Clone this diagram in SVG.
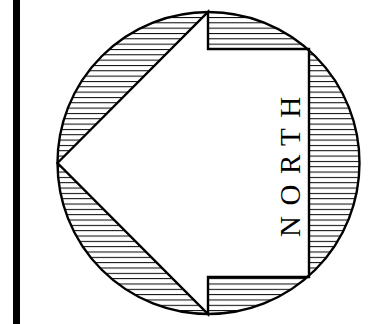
<svg xmlns="http://www.w3.org/2000/svg" width="381" height="324" viewBox="0 0 381 324">
<style>
.outline{fill:none;stroke:#000;stroke-width:2.4}
.arrow{fill:#fff;stroke:#000;stroke-width:2.4;stroke-linejoin:miter}
.label{font-family:"Liberation Serif","Times New Roman",serif;font-size:29px;letter-spacing:10.5px;fill:#000}
</style>
<defs>
<pattern id="hatch" patternUnits="userSpaceOnUse" x="0" y="1" width="20" height="5.33">
<rect x="0" y="0" width="20" height="1" fill="#000"/>
</pattern>
</defs>
<rect id="bar" x="13" y="0" width="7" height="324" fill="#000"/>
<g id="compass">
<circle cx="208.5" cy="163" r="151" fill="url(#hatch)"/>
<polygon class="arrow" points="57.5,163 208,12 208,49 309,49 309,277 208,277 208,314"/>
<circle class="outline" cx="208.5" cy="163" r="151"/>
</g>
<g id="connectors"/>
<g id="north-label">
<text class="label" transform="translate(300,237) rotate(-90)" x="0" y="0">NORTH</text>
</g>
</svg>
